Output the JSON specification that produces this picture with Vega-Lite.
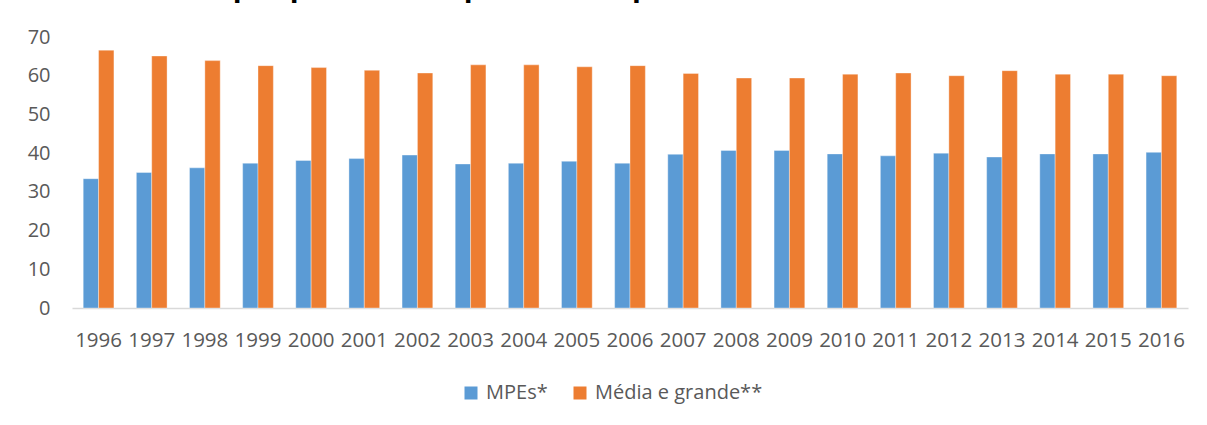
{
  "$schema": "https://vega.github.io/schema/vega-lite/v6.json",
  "width": 1116,
  "height": 271,
  "autosize": {"type": "none"},
  "padding": {"left": 72, "top": 37, "right": 19, "bottom": 117},
  "background": "white",
  "title": {
    "text": "por porte (% do pessoal ocupado) – Brasil 1996-2016",
    "font": "Open Sans",
    "fontSize": 29,
    "fontWeight": "bold",
    "color": "#000000",
    "anchor": "middle",
    "baseline": "alphabetic",
    "offset": 10,
    "dy": 8,
    "dx": -26
  },
  "data": {
    "values": [
      {"year": "1996", "series": "MPEs*", "value": 33.4},
      {"year": "1996", "series": "Média e grande**", "value": 66.6},
      {"year": "1997", "series": "MPEs*", "value": 35.0},
      {"year": "1997", "series": "Média e grande**", "value": 65.1},
      {"year": "1998", "series": "MPEs*", "value": 36.2},
      {"year": "1998", "series": "Média e grande**", "value": 63.9},
      {"year": "1999", "series": "MPEs*", "value": 37.4},
      {"year": "1999", "series": "Média e grande**", "value": 62.6},
      {"year": "2000", "series": "MPEs*", "value": 38.1},
      {"year": "2000", "series": "Média e grande**", "value": 62.1},
      {"year": "2001", "series": "MPEs*", "value": 38.6},
      {"year": "2001", "series": "Média e grande**", "value": 61.4},
      {"year": "2002", "series": "MPEs*", "value": 39.5},
      {"year": "2002", "series": "Média e grande**", "value": 60.7},
      {"year": "2003", "series": "MPEs*", "value": 37.2},
      {"year": "2003", "series": "Média e grande**", "value": 62.8},
      {"year": "2004", "series": "MPEs*", "value": 37.4},
      {"year": "2004", "series": "Média e grande**", "value": 62.8},
      {"year": "2005", "series": "MPEs*", "value": 37.9},
      {"year": "2005", "series": "Média e grande**", "value": 62.3},
      {"year": "2006", "series": "MPEs*", "value": 37.4},
      {"year": "2006", "series": "Média e grande**", "value": 62.6},
      {"year": "2007", "series": "MPEs*", "value": 39.7},
      {"year": "2007", "series": "Média e grande**", "value": 60.6},
      {"year": "2008", "series": "MPEs*", "value": 40.7},
      {"year": "2008", "series": "Média e grande**", "value": 59.4},
      {"year": "2009", "series": "MPEs*", "value": 40.7},
      {"year": "2009", "series": "Média e grande**", "value": 59.4},
      {"year": "2010", "series": "MPEs*", "value": 39.8},
      {"year": "2010", "series": "Média e grande**", "value": 60.4},
      {"year": "2011", "series": "MPEs*", "value": 39.3},
      {"year": "2011", "series": "Média e grande**", "value": 60.7},
      {"year": "2012", "series": "MPEs*", "value": 40.0},
      {"year": "2012", "series": "Média e grande**", "value": 60.0},
      {"year": "2013", "series": "MPEs*", "value": 39.0},
      {"year": "2013", "series": "Média e grande**", "value": 61.3},
      {"year": "2014", "series": "MPEs*", "value": 39.8},
      {"year": "2014", "series": "Média e grande**", "value": 60.4},
      {"year": "2015", "series": "MPEs*", "value": 39.8},
      {"year": "2015", "series": "Média e grande**", "value": 60.4},
      {"year": "2016", "series": "MPEs*", "value": 40.2},
      {"year": "2016", "series": "Média e grande**", "value": 60.0}
    ]
  },
  "mark": {"type": "bar", "stroke": "#ffffff", "strokeWidth": 0.6, "strokeOpacity": 0.6},
  "encoding": {
    "x": {
      "field": "year",
      "type": "nominal",
      "title": null,
      "scale": {"paddingInner": 0.422, "paddingOuter": 0.211},
      "axis": {
        "labelAngle": 0,
        "labelFont": "Open Sans",
        "labelFontSize": 20.5,
        "labelColor": "#595959",
        "labelPadding": 22,
        "ticks": false,
        "domainColor": "#D9D9D9",
        "domainWidth": 1.5,
        "grid": false
      }
    },
    "xOffset": {
      "field": "series",
      "type": "nominal",
      "sort": ["MPEs*", "Média e grande**"],
      "scale": {"paddingInner": 0, "paddingOuter": 0}
    },
    "y": {
      "field": "value",
      "type": "quantitative",
      "title": null,
      "scale": {"domain": [0, 70], "nice": false},
      "axis": {
        "values": [0, 10, 20, 30, 40, 50, 60, 70],
        "labelFont": "Open Sans",
        "labelFontSize": 20,
        "labelColor": "#595959",
        "labelPadding": 22,
        "ticks": false,
        "domain": false,
        "grid": false
      }
    },
    "color": {
      "field": "series",
      "type": "nominal",
      "sort": ["MPEs*", "Média e grande**"],
      "scale": {"domain": ["MPEs*", "Média e grande**"], "range": ["#5B9BD5", "#ED7D31"]},
      "legend": {
        "title": null,
        "orient": "none",
        "direction": "horizontal",
        "legendX": 389,
        "legendY": 346,
        "symbolType": "square",
        "symbolSize": 169,
        "symbolStrokeWidth": 0,
        "labelFont": "Open Sans",
        "labelFontSize": 20,
        "labelLimit": 400,
        "labelColor": "#595959",
        "labelOffset": 5,
        "columnPadding": 22
      }
    }
  },
  "config": {
    "view": {"stroke": null}
  }
}
